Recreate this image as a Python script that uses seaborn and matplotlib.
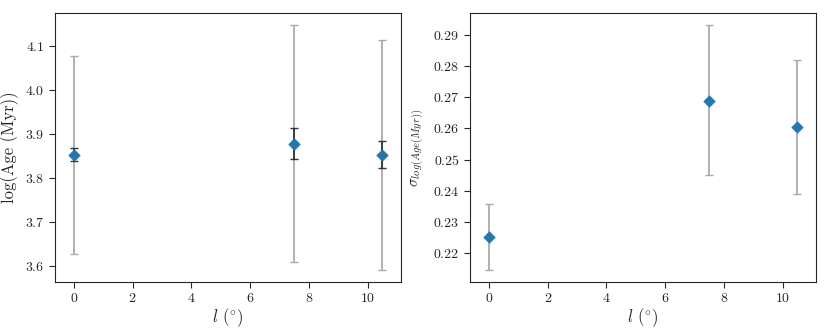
import matplotlib
matplotlib.use("Agg")
import matplotlib.pyplot as plt
import pandas as pd
import seaborn as sns

# longitude bins (deg)
lon = [0.0, 7.5, 10.5]

# mean log age and its errors
log_age = [3.852, 3.878, 3.853]
log_age_lo_in = [3.838, 3.843, 3.822]
log_age_hi_in = [3.868, 3.913, 3.884]
log_age_lo_out = [3.627, 3.609, 3.592]
log_age_hi_out = [4.078, 4.147, 4.114]

# dispersion of log age and its errors
sig_age = [0.2251, 0.2690, 0.2605]
sig_age_lo = [0.2145, 0.2450, 0.2388]
sig_age_hi = [0.2358, 0.2932, 0.2822]

sns.set_style("ticks")
plt.rcParams["font.family"] = ["cmr10", "DejaVu Serif"]
plt.rcParams["mathtext.fontset"] = "cm"
plt.rcParams["axes.formatter.use_mathtext"] = True
plt.rcParams["xtick.major.size"] = 4
plt.rcParams["ytick.major.size"] = 4

df = pd.DataFrame({"l": lon, "age": log_age, "sig": sig_age})

fig, axes = plt.subplots(1, 2, figsize=(8.3, 3.32), dpi=100)
fig.subplots_adjust(left=0.066, right=0.983, top=0.96, bottom=0.151, wspace=0.2)

ax = axes[0]
ax.errorbar(lon, log_age,
            yerr=[[a - b for a, b in zip(log_age, log_age_lo_out)],
                  [b - a for a, b in zip(log_age, log_age_hi_out)]],
            fmt="none", ecolor="#aaaaaa", elinewidth=1.3, capsize=3, zorder=1)
ax.errorbar(lon, log_age,
            yerr=[[a - b for a, b in zip(log_age, log_age_lo_in)],
                  [b - a for a, b in zip(log_age, log_age_hi_in)]],
            fmt="none", ecolor="#333333", elinewidth=1.3, capsize=3, zorder=2)
sns.scatterplot(data=df, x="l", y="age", ax=ax, marker="D", s=34,
                color="#1f77b4", edgecolor="#1f77b4", zorder=3)
ax.set_xlim(-0.65, 11.13)
ax.set_yticks([3.6, 3.7, 3.8, 3.9, 4.0, 4.1])
ax.set_xlabel(r"$l$ ($^{\circ}$)", fontsize=12, labelpad=1)
ax.set_ylabel(r"log(Age (Myr))", fontsize=12)

ax = axes[1]
ax.errorbar(lon, sig_age,
            yerr=[[a - b for a, b in zip(sig_age, sig_age_lo)],
                  [b - a for a, b in zip(sig_age, sig_age_hi)]],
            fmt="none", ecolor="#aaaaaa", elinewidth=1.3, capsize=3, zorder=1)
sns.scatterplot(data=df, x="l", y="sig", ax=ax, marker="D", s=34,
                color="#1f77b4", edgecolor="#1f77b4", zorder=3)
ax.set_xlim(-0.65, 11.13)
ax.set_yticks([0.22, 0.23, 0.24, 0.25, 0.26, 0.27, 0.28, 0.29])
ax.set_xlabel(r"$l$ ($^{\circ}$)", fontsize=12, labelpad=1)
ax.set_ylabel(r"$\sigma_{log(Age(Myr))}$", fontsize=11)

for a in axes:
    a.tick_params(labelsize=10)
    a.set_xticks([0, 2, 4, 6, 8, 10])

fig.savefig("out.png", dpi=100)
